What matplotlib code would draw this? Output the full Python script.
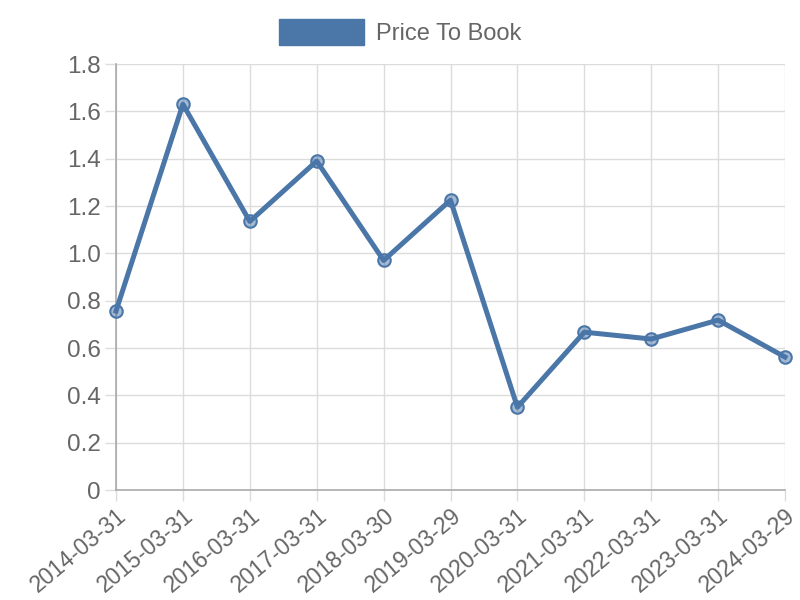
import matplotlib
matplotlib.use("Agg")
import matplotlib.pyplot as plt
from matplotlib.patches import Patch

dates = ["2014-03-31", "2015-03-31", "2016-03-31", "2017-03-31", "2018-03-30",
         "2019-03-29", "2020-03-31", "2021-03-31", "2022-03-31", "2023-03-31", "2024-03-29"]
price_to_book = [0.756, 1.63, 1.135, 1.39, 0.97, 1.225, 0.35, 0.667, 0.638, 0.718, 0.562]
yticks = [0, 0.2, 0.4, 0.6, 0.8, 1.0, 1.2, 1.4, 1.6, 1.8]
ytick_labels = ["0", "0.2", "0.4", "0.6", "0.8", "1.0", "1.2", "1.4", "1.6", "1.8"]

plt.rcParams['font.family'] = ['Liberation Sans', 'DejaVu Sans']
color = "#4a76a8"
text_color = "#666666"

fig = plt.figure(figsize=(8, 6), dpi=100)
ax = fig.add_axes([0.145, 0.1833, 0.83625, 0.71])
x = list(range(len(dates)))
ax.plot(x, price_to_book, color=color, lw=3.6, marker='o', markersize=9,
        markerfacecolor=(0.29, 0.46, 0.66, 0.5), markeredgecolor=color,
        markeredgewidth=1.5, zorder=3, clip_on=False)
ax.set_xlim(0, len(dates) - 1)
ax.set_ylim(0, 1.8)
ax.set_yticks(yticks)
ax.set_yticklabels(ytick_labels, fontsize=17.5)
ax.set_xticks(x)
ax.set_xticklabels(dates, rotation=40, ha='right', rotation_mode='anchor', fontsize=16.5)
ax.grid(True, color="#dcdcdc", lw=1)
ax.set_axisbelow(True)
for s in ['top', 'right']:
    ax.spines[s].set_visible(False)
for s in ['left', 'bottom']:
    ax.spines[s].set_color("#aaaaaa")
    ax.spines[s].set_linewidth(1.2)
ax.tick_params(axis='both', colors="#dcdcdc", labelcolor=text_color, length=8, width=1)
ax.tick_params(axis='x', pad=2)
ax.tick_params(axis='y', pad=3)

handle = Patch(facecolor=color, edgecolor=color)
fig.legend([handle], ["Price To Book"], loc='upper center', bbox_to_anchor=(0.5, 1.004),
           frameon=False, fontsize=17, labelcolor=text_color, handlelength=3.6, handleheight=1.3,
           handletextpad=0.5)
fig.savefig("out.png", dpi=100)
